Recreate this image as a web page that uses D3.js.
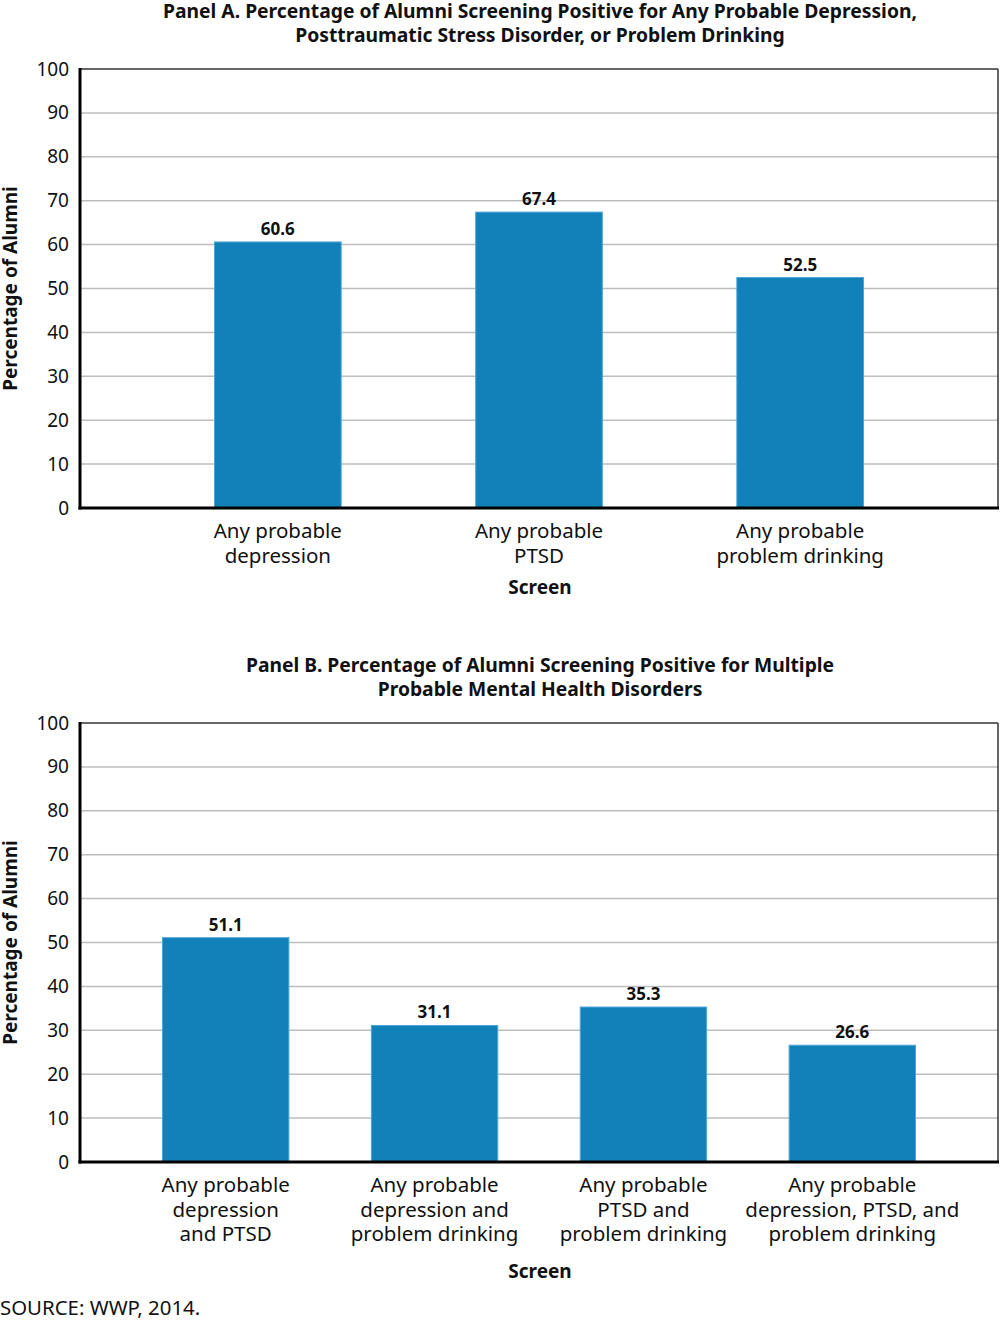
<!DOCTYPE html>
<html>
<head>
<meta charset="utf-8">
<script src="https://cdn.jsdelivr.net/npm/d3@7"></script>
<style>
  body { margin: 0; background: #fff; }
  text { font-family: "Noto Sans", "Open Sans", sans-serif; fill: #111; }
</style>
</head>
<body>
<div id="chart"></div>
<script>
// Panel A data
const panelATitle = ["Panel A. Percentage of Alumni Screening Positive for Any Probable Depression,",
                     "Posttraumatic Stress Disorder, or Problem Drinking"];
const panelACategories = [
    ["Any probable", "depression"],
    ["Any probable", "PTSD"],
    ["Any probable", "problem drinking"]
];
const panelAValues = [60.6, 67.4, 52.5];

// Panel B data
const panelBTitle = ["Panel B. Percentage of Alumni Screening Positive for Multiple",
                     "Probable Mental Health Disorders"];
const panelBCategories = [
    ["Any probable", "depression", "and PTSD"],
    ["Any probable", "depression and", "problem drinking"],
    ["Any probable", "PTSD and", "problem drinking"],
    ["Any probable", "depression, PTSD, and", "problem drinking"]
];
const panelBValues = [51.1, 31.1, 35.3, 26.6];

const yTicks = [0, 10, 20, 30, 40, 50, 60, 70, 80, 90, 100];

const svg = d3.select("#chart").append("svg")
    .attr("width", 1000)
    .attr("height", 1321);

function drawPanel(opts) {
    const { title, categories, values, top, bottom, titleY, padding } = opts;
    const left = 80, right = 998;
    const g = svg.append("g");

    // title
    g.append("text")
        .attr("x", 540).attr("y", titleY)
        .attr("text-anchor", "middle")
        .style("font-size", "19.3px").style("font-weight", "bold")
        .selectAll("tspan").data(title).enter().append("tspan")
        .attr("x", 540).attr("dy", (d, i) => i === 0 ? 0 : 24)
        .text(d => d);

    const x = d3.scaleBand()
        .domain(d3.range(categories.length))
        .range([left, right])
        .padding(padding);

    const y = d3.scaleLinear().domain([0, 100]).range([bottom, top]);

    // gridlines
    g.selectAll(".grid").data(yTicks.filter(t => t > 0 && t < 100)).enter()
        .append("line")
        .attr("x1", left).attr("x2", right)
        .attr("y1", d => y(d)).attr("y2", d => y(d))
        .attr("stroke", "#bdbdbd").attr("stroke-width", 1.5);

    // frame top / right
    g.append("line").attr("x1", left).attr("x2", right)
        .attr("y1", y(100)).attr("y2", y(100))
        .attr("stroke", "#333").attr("stroke-width", 1.5);
    g.append("line").attr("x1", right).attr("x2", right)
        .attr("y1", y(100)).attr("y2", y(0))
        .attr("stroke", "#333").attr("stroke-width", 1.5);

    // bars
    g.selectAll(".bar").data(values).enter().append("rect")
        .attr("x", (d, i) => x(i))
        .attr("y", d => y(d))
        .attr("width", x.bandwidth())
        .attr("height", d => y(0) - y(d))
        .attr("fill", "#1281b9")
        .attr("stroke", "#4da6d8").attr("stroke-width", 1);

    // value labels
    g.selectAll(".val").data(values).enter().append("text")
        .attr("x", (d, i) => x(i) + x.bandwidth() / 2)
        .attr("y", d => y(d) - 7)
        .attr("text-anchor", "middle")
        .style("font-size", "17px").style("font-weight", "bold")
        .text(d => d.toFixed(1));

    // y axis
    const yAxis = g.append("g")
        .attr("transform", `translate(${left},0)`)
        .call(d3.axisLeft(y).tickValues(yTicks).tickSize(0).tickPadding(11));
    yAxis.select(".domain").remove();
    yAxis.selectAll("text")
        .style("font-size", "19px").style("font-family", "'Noto Sans', sans-serif")
        .attr("fill", "#111");

    // axis lines
    g.append("line").attr("x1", left).attr("x2", left)
        .attr("y1", y(100) - 1).attr("y2", y(0) + 1.5)
        .attr("stroke", "#000").attr("stroke-width", 3);
    g.append("line").attr("x1", left - 1.5).attr("x2", right + 1)
        .attr("y1", y(0)).attr("y2", y(0))
        .attr("stroke", "#000").attr("stroke-width", 3);

    // category labels
    const cats = g.selectAll(".cat").data(categories).enter().append("text")
        .attr("text-anchor", "middle")
        .attr("y", bottom + 30)
        .style("font-size", "20.5px");
    cats.selectAll("tspan").data((d, i) => d.map(s => ({ s, i }))).enter()
        .append("tspan")
        .attr("x", d => x(d.i) + x.bandwidth() / 2)
        .attr("dy", (d, j) => j === 0 ? 0 : 24.5)
        .text(d => d.s);

    // axis titles
    g.append("text")
        .attr("x", 540).attr("y", opts.screenY)
        .attr("text-anchor", "middle")
        .style("font-size", "19px").style("font-weight", "bold")
        .text("Screen");

    g.append("text")
        .attr("transform", `translate(17,${(top + bottom) / 2}) rotate(-90)`)
        .attr("text-anchor", "middle")
        .style("font-size", "19px").style("font-weight", "bold")
        .text("Percentage of Alumni");
}

drawPanel({
    title: panelATitle, categories: panelACategories, values: panelAValues,
    top: 69, bottom: 508, titleY: 18, padding: 0.515, screenY: 594
});

drawPanel({
    title: panelBTitle, categories: panelBCategories, values: panelBValues,
    top: 723, bottom: 1162, titleY: 672, padding: 0.395, screenY: 1278
});

svg.append("text")
    .attr("x", 0).attr("y", 1315)
    .style("font-size", "20.4px")
    .text("SOURCE: WWP, 2014.");
</script>
</body>
</html>
